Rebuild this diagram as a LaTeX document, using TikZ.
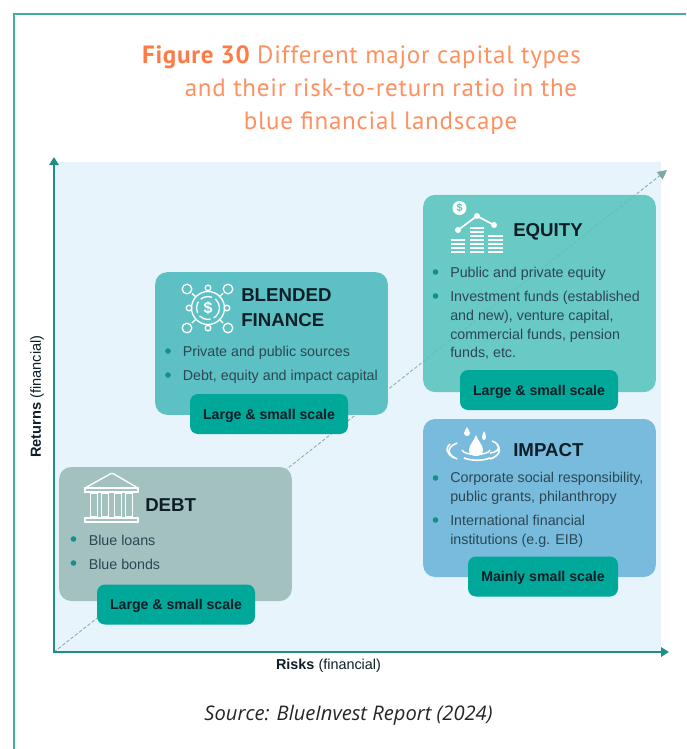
\documentclass[tikz,border=0pt]{standalone}
\usepackage{fontspec}
\setmainfont{Liberation Sans}
\newfontfamily\titlefont[LetterSpace=3.0]{PT Sans}
\newfontfamily\srcfont{Open Sans}
\usetikzlibrary{arrows.meta,calc}
\definecolor{frameC}{HTML}{3FAF9E}
\definecolor{bgC}{HTML}{E8F4FC}
\definecolor{axisC}{HTML}{1F8F85}
\definecolor{diagC}{HTML}{7FA9A5}
\definecolor{eqC}{HTML}{58C4BE}
\definecolor{blC}{HTML}{5CC0C5}
\definecolor{deC}{HTML}{A3C1BF}
\definecolor{imC}{HTML}{78BBDC}
\definecolor{pillC}{HTML}{00A89A}
\definecolor{headC}{HTML}{0E1E26}
\definecolor{bodyC}{HTML}{2B4754}
\definecolor{dotC}{HTML}{13908A}
\definecolor{titleC}{HTML}{FF9060}
\definecolor{titleB}{HTML}{FF7A45}
\tikzset{
  x=0.75pt,y=-0.75pt,
  capbox/.style={rounded corners=9pt,inner sep=0pt,minimum width=174.5pt},
  pill/.style={fill=pillC,rounded corners=6pt,inner sep=0pt,minimum height=30pt,text depth=0pt,
    font=\fontsize{10.6pt}{12pt}\selectfont\bfseries,text=headC},
  head/.style={anchor=west,inner sep=0pt,font=\fontsize{14pt}{18pt}\selectfont,text=headC,align=left},
  body/.style={anchor=west,inner sep=0pt,font=\fontsize{10.7pt}{14pt}\selectfont,text=bodyC,align=left},
  bullet/.style={circle,fill=dotC,inner sep=0pt,minimum size=4.2pt},
  titleline/.style={anchor=base,inner sep=0pt,font=\fontsize{18.75pt}{22pt}\titlefont,text=titleC},
  axis/.style={draw=axisC,line width=1.6pt,-{Triangle[length=6pt,width=7pt]}},
  diag/.style={draw=diagC,line width=0.6pt,dash pattern=on 2.5pt off 1.5pt},
  icon/.style={draw=white,line width=1pt,fill=none},
}
\begin{document}
\begin{tikzpicture}
\useasboundingbox (0,0) rectangle (686,749);
% frame
\draw[frameC,line width=1.2pt] (14,749) -- (14,14) -- (686,14);
% title
\node[titleline] (t1) at (361.5,64) {{\bfseries\color{titleB}Figure 30} Different major capital types};
\node[titleline] (t2) at (381,96.5) {and their risk-to-return ratio in the};
\node[titleline] (t3) at (380.5,129) {blue financial landscape};
% plot background
\fill[bgC] (54,162) rectangle (661,651);
\coordinate (origin) at (54,652);
\coordinate (yend) at (54,157);
\coordinate (xend) at (669,652);
\coordinate (dend) at (667,170);
\draw[diag,-{Triangle[length=7pt,width=7pt]}] (origin) -- (dend);
\draw[axis] (origin) -- (yend);
\draw[axis] ([xshift=-0.7pt]origin) -- (xend);
% axis labels
\node[rotate=90,inner sep=0pt,font=\fontsize{10.95pt}{12pt}\selectfont,text=headC] (ylab) at (37,396.5) {\textbf{Returns} (financial)};
\node[inner sep=0pt,font=\fontsize{10.8pt}{12pt}\selectfont,text=headC] (xlab) at (328.5,665.5) {\textbf{Risks} (financial)};
% boxes
\node[capbox,fill=deC,minimum height=100.5pt] (debt) at (175.5,534) {};
\node[capbox,fill=blC,minimum height=107pt] (blended) at (271.5,343.5) {};
\node[capbox,fill=eqC,fill opacity=0.88,minimum height=148pt] (equity) at (539.5,293.5) {};
\node[capbox,fill=imC,minimum height=118.5pt] (impact) at (539.5,498) {};
% pills
\node[pill,minimum width=118.5pt] (pd) at (176,604.5) {Large \& small scale};
\node[pill,minimum width=118.5pt] (pb) at (269,414) {Large \& small scale};
\node[pill,minimum width=118.5pt] (pe) at (539,390) {Large \& small scale};
\node[pill,minimum width=112.5pt] (pi) at (543,576.5) {Mainly small scale};
% headings
\node[head] (hd) at (145,505) {\bfseries DEBT};
\node[head] (hb) at (241,308) {\bfseries BLENDED\\[0.5pt]\bfseries FINANCE};
\node[head] (he) at (513,231.5) {\bfseries EQUITY};
\node[head] (hi) at (513,450) {\bfseries IMPACT};
% body: equity
\node[bullet] (be1) at (435.5,272) {};
\node[bullet] (be2) at (435.5,296) {};
\node[body] (te1) at (450,274) {Public and private equity};
\node[body] (te2) at (450,325.5) {Investment funds (established\\and new), venture capital,\\commercial funds, pension\\funds, etc.};
% body: blended
\node[bullet] (bb1) at (168,351) {};
\node[bullet] (bb2) at (168,375) {};
\node[body] (tb1) at (182.5,352.5) {Private and public sources};
\node[body] (tb2) at (182.5,376.5) {Debt, equity and impact capital};
% body: debt
\node[bullet] (bd1) at (73.5,539) {};
\node[bullet] (bd2) at (73.5,563) {};
\node[body] (td1) at (88.5,540) {Blue loans};
\node[body] (td2) at (88.5,564) {Blue bonds};
% body: impact
\node[bullet] (bi1) at (435.5,478) {};
\node[bullet] (bi2) at (435.5,520) {};
\node[body] (ti1) at (450,488.5) {Corporate social responsibility,\\public grants, philanthropy};
\node[body] (ti2) at (450,531) {International financial\\institutions (e.g. EIB)};
% source
\node[inner sep=0pt,font=\fontsize{15.1pt}{17pt}\srcfont\itshape,text=black!85] (src) at (348.5,715) {Source: BlueInvest Report (2024)};
% equity icon
\fill[white] (459.5,208) circle (7);
\node[inner sep=0pt,font=\fontsize{8pt}{8pt}\selectfont\bfseries,text=eqC] (dollar) at (459.5,208) {\$};
\draw[icon,line width=1.3pt] (458,230) -- (477,216) -- (494,225);
\fill[white] (458,230) circle (3) (477,216) circle (3) (494,225) circle (3);
\foreach \yy in {241,245,249,253} \fill[white] (451,\yy-1.7) rectangle (465,\yy+0.3);
\foreach \yy in {229,233,237,241,245,249,253} \fill[white] (470,\yy-1.7) rectangle (484,\yy+0.3);
\foreach \yy in {237,241,245,249,253} \fill[white] (488,\yy-1.7) rectangle (503,\yy+0.3);
% blended icon
\draw[icon] (208,308) circle (16.5);
\draw[icon,dash pattern=on 9pt off 2.5pt] (208,308) circle (11.5);
\node[inner sep=0pt,font=\fontsize{12pt}{12pt}\selectfont\bfseries,text=white] (bdollar) at (208,308) {\$};
\foreach \cx/\cy/\ex/\ey in {187/289/196/297,228/289/219/297,187/328/196/319,228/328/219/319}{
  \draw[icon] (\cx,\cy) circle (4.8);
  \draw[icon] (\ex,\ey) -- ($(\cx,\cy)!0.55!(\ex,\ey)$);
}
\foreach \cx/\cy in {208/288,208/328,189/308,227/308}
  \draw[icon,fill=blC] (\cx,\cy) circle (2.8);
% debt icon
\draw[icon] (85,488) -- (111,473.5) -- (113,473.5) -- (138,488);
\draw[icon] (85,488) rectangle (138,492);
\draw[icon] (85,522) rectangle (138,518);
\foreach \cc in {94,105,118,129}{
  \draw[icon,line width=0.8pt] (\cc-3.5,493) rectangle (\cc+3.5,517);
}
% impact icon
\fill[white] (476,435) .. controls (478,441) and (483,445) .. (483,450) .. controls (483,458) and (469,458) .. (469,450) .. controls (469,445) and (474,441) .. (476,435) -- cycle;
\fill[white] (467,427) .. controls (468,430) and (470,431) .. (470,433) .. controls (470,437) and (464,437) .. (464,433) .. controls (464,431) and (466,430) .. (467,427) -- cycle;
\fill[white] (484,431) .. controls (483,434) and (482,436) .. (482,437) .. controls (482,441) and (486,441) .. (486,437) .. controls (486,435) and (485,433) .. (484,431) -- cycle;
\draw[icon,line width=1.1pt] (462,450) .. controls (464,456) and (488,456) .. (490,450);
\draw[icon,line width=1.2pt] (457,443) .. controls (445,448) and (448,455) .. (457,459);
\draw[icon,line width=1.2pt] (450,444) .. controls (445,448) and (446,453) .. (454,458);
\draw[icon,line width=1.2pt] (490,453) .. controls (501,452) and (501,444) .. (492,441);
\draw[icon,line width=1.2pt] (497,445) .. controls (502,450) and (499,456) .. (490,459);
\draw[icon,line width=1.2pt] (464,458) .. controls (472,461) and (482,461) .. (490,458);
\end{tikzpicture}
\end{document}
